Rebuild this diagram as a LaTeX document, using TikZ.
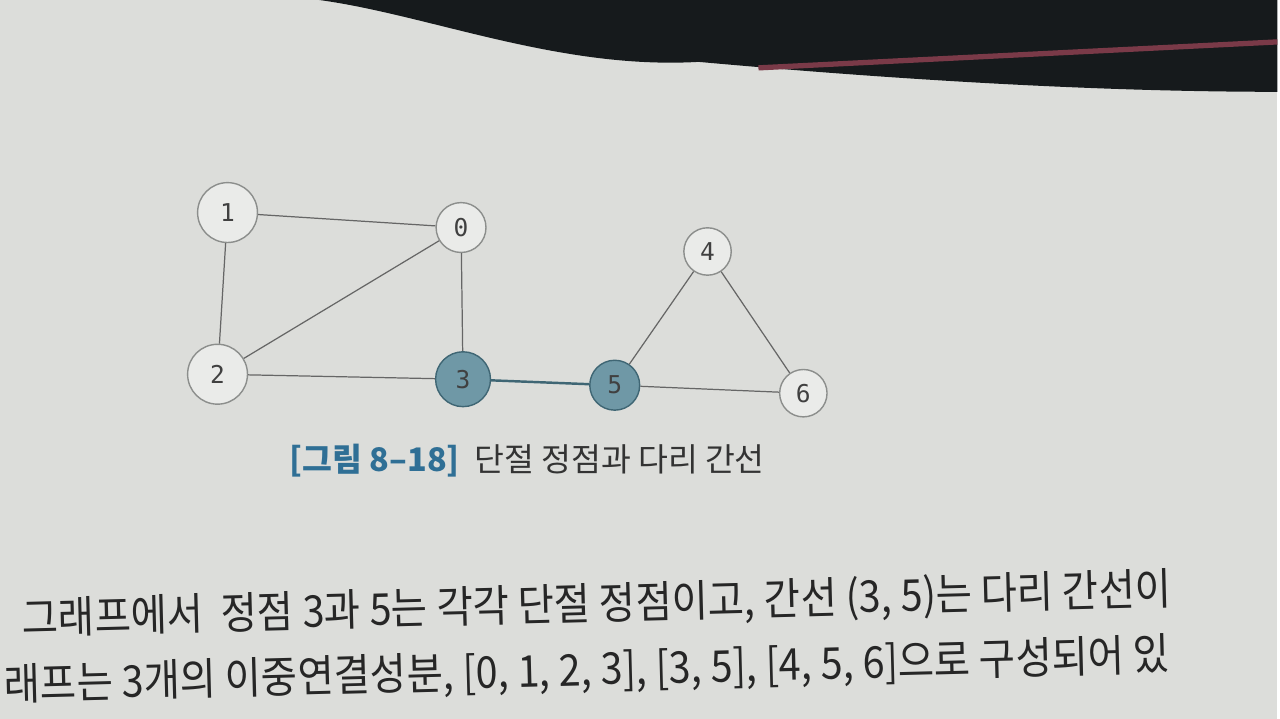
\documentclass[tikz,border=0pt]{standalone}
\usepackage{fontspec}
\setmainfont{Noto Sans CJK KR}
\newfontfamily\digitfont{DejaVu Sans Mono}
\usepackage{xcolor}
\definecolor{pagegray}{HTML}{DCDDDA}
\definecolor{vertexline}{HTML}{8C8E8C}
\definecolor{cutfill}{HTML}{6F98A6}
\definecolor{cutline}{HTML}{3F6674}
\definecolor{figblue}{HTML}{2F6F95}
\definecolor{bookdark}{HTML}{161A1C}
\definecolor{bookred}{HTML}{7A3A48}

\begin{document}
\begin{tikzpicture}[x=0.02cm, y=-0.02cm,
  vertex/.style={circle, draw=vertexline, fill=pagegray!60!white, line width=0.8pt,
    minimum size=1.0cm, inner sep=0pt, font=\digitfont\fontsize{14}{14}\selectfont, text=black!75},
  cutvertex/.style={vertex, fill=cutfill, draw=cutline},
  edge/.style={draw=black!60, line width=0.7pt},
  bridge/.style={draw=cutline, line width=1.4pt},
  bodyline/.style={anchor=west, rotate=1.5, xscale=0.9, font=\fontsize{25}{28}\selectfont,
    text=black!85, inner sep=0pt}]
  % page and book edge
  \fill[pagegray] (0,0) rectangle (1280,720);
  \fill[bookdark] (320,0) .. controls (430,15) and (560,70) .. (700,62)
    .. controls (900,80) and (1100,92) .. (1280,92) -- (1280,0) -- cycle;
  \draw[bookred, line width=3pt] (760,68) -- (1280,42);
  \useasboundingbox (0,0) rectangle (1280,720);

  % vertices
  \node[vertex, minimum size=1.2cm] (v1) at (228,213) {1};
  \node[vertex] (v0) at (462,228) {0};
  \node[vertex, minimum size=0.95cm] (v4) at (709,252) {4};
  \node[vertex, minimum size=1.2cm] (v2) at (218,375) {2};
  \node[cutvertex, minimum size=1.1cm] (v3) at (464,380) {3};
  \node[cutvertex] (v5) at (616,386) {5};
  \node[vertex, minimum size=0.95cm] (v6) at (805,394) {6};

  % edges
  \draw[edge] (v1) -- (v0);
  \draw[edge] (v1) -- (v2);
  \draw[edge] (v2) -- (v0);
  \draw[edge] (v0) -- (v3);
  \draw[edge] (v2) -- (v3);
  \draw[bridge] (v3) -- (v5);
  \draw[edge] (v5) -- (v4);
  \draw[edge] (v4) -- (v6);
  \draw[edge] (v5) -- (v6);

  % caption
  \node[anchor=west, font=\fontsize{18.5}{22}\selectfont, text=black!80, inner sep=0pt] (caption) at (290,462)
    {\textcolor{figblue}{\bfseries[그림 8\textendash18]}\ \ 단절 정점과 다리 간선};

  % body text
  \node[bodyline] (line1) at (22,622)
    {그래프에서 \ 정점 3과 5는 각각 단절 정점이고, 간선 (3, 5)는 다리 간선이};
  \node[bodyline] (line2) at (4,688)
    {래프는 3개의 이중연결성분, [0, 1, 2, 3], [3, 5], [4, 5, 6]으로 구성되어 있};
\end{tikzpicture}
\end{document}
